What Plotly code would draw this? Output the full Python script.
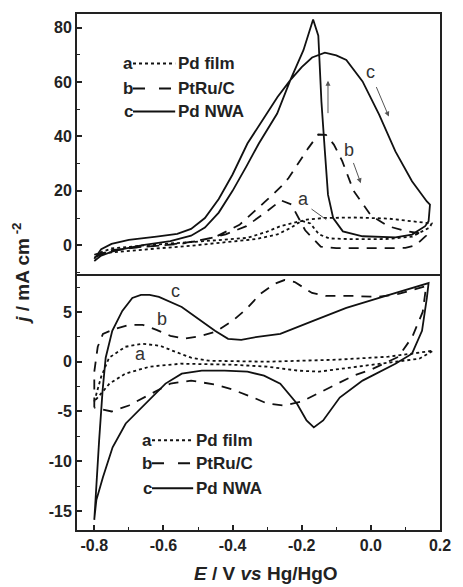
import plotly.graph_objects as go

# ---------------- data ----------------
# Upper panel: CVs in ethanol solution
up_a_E = [-0.80, -0.75, -0.65, -0.55, -0.45, -0.357, -0.30, -0.262, -0.22, -0.186, -0.138, -0.05, 0.05, 0.12, 0.176,
          0.17, 0.12, 0.05, -0.05, -0.12, -0.15, -0.175, -0.20, -0.23, -0.27, -0.33, -0.42, -0.52, -0.62, -0.72, -0.78, -0.80]
up_a_j = [-3.5, -1.2, 0.0, 0.8, 1.8, 2.7, 5.0, 7.0, 8.3, 9.4, 10.0, 10.2, 9.8, 8.8, 8.0,
          6.5, 3.2, 2.3, 2.2, 2.5, 4.0, 8.0, 9.0, 6.5, 4.0, 2.3, 1.0, -0.2, -1.2, -2.2, -3.0, -3.5]

up_b_E = [-0.80, -0.75, -0.65, -0.55, -0.45, -0.38, -0.306, -0.26, -0.238, -0.20, -0.181, -0.152, -0.13, -0.107, -0.083,
          -0.05, 0.0, 0.05, 0.10, 0.16,
          0.16, 0.13, 0.10, 0.0, -0.10, -0.145, -0.17, -0.19, -0.23, -0.26, -0.30, -0.36, -0.42, -0.50, -0.60, -0.70, -0.78, -0.80]
up_b_j = [-4.5, -1.8, -0.5, 0.5, 3.0, 7.5, 16.0, 21.5, 24.7, 32.0, 35.7, 40.7, 40.6, 37.0, 31.0,
          20.0, 11.0, 7.0, 5.2, 4.0,
          3.5, 0.0, -1.0, -1.1, -1.1, -0.5, 3.0, 5.5, 15.0, 16.5, 12.5, 7.0, 4.0, 1.5, 0.0, -1.0, -3.0, -4.5]

up_c_E = [-0.80, -0.78, -0.75, -0.70, -0.62, -0.56, -0.52, -0.48, -0.44, -0.40, -0.357, -0.30, -0.27, -0.233, -0.20,
          -0.17, -0.133, -0.10, -0.071, -0.024, 0.024, 0.071, 0.119, 0.162, 0.171,
          0.167, 0.157, 0.119, 0.071, -0.024, -0.081, -0.109, -0.124, -0.133, -0.143, -0.152, -0.167,
          -0.195, -0.233, -0.271, -0.324, -0.36, -0.40, -0.44, -0.48, -0.52, -0.58, -0.66, -0.74, -0.78, -0.80]
up_c_j = [-5.0, -1.5, 0.5, 2.0, 3.2, 4.2, 6.0, 10.0, 17.0, 26.0, 37.4, 48.4, 54.5, 60.7, 65.5,
          69.0, 70.8, 69.8, 68.1, 60.2, 48.0, 34.5, 23.5, 16.1, 14.9,
          8.8, 7.0, 3.9, 2.9, 3.3, 5.1, 10.0, 18.6, 34.5, 52.8, 77.0, 83.0,
          71.7, 60.7, 48.4, 37.4, 29.0, 20.0, 12.0, 6.5, 3.5, 1.5, 0.0, -2.0, -3.8, -5.8]

# Lower panel: CVs in blank electrolyte
lo_a_E = [-0.80, -0.78, -0.757, -0.71, -0.66, -0.61, -0.566, -0.52, -0.47, -0.30, -0.10, 0.05, 0.18,
          0.14, 0.05, -0.07, -0.15, -0.21, -0.30, -0.40, -0.55, -0.64, -0.71, -0.756, -0.78, -0.80]
lo_a_j = [-4.0, -1.5, 0.4, 1.5, 1.8, 1.6, 1.0, 0.4, 0.1, 0.0, 0.2, 0.5, 1.1,
          0.3, -0.1, -0.6, -1.0, -0.9, -0.5, -0.3, -0.2, -0.5, -1.2, -2.2, -3.2, -4.0]

lo_b_E = [-0.80, -0.80, -0.79, -0.775, -0.74, -0.70, -0.66, -0.62, -0.58, -0.54, -0.49, -0.45, -0.40, -0.36, -0.32,
          -0.28, -0.25, -0.22, -0.17, -0.13, -0.05, 0.02, 0.08, 0.13, 0.16,
          0.15, 0.12, 0.08, 0.0, -0.05, -0.12, -0.20, -0.25, -0.30, -0.34, -0.40, -0.45, -0.52, -0.58, -0.64, -0.70, -0.75, -0.78, -0.80]
lo_b_j = [-4.6, -1.0, 1.5, 2.8, 3.3, 3.7, 3.7, 3.2, 2.6, 2.3, 2.6, 3.0, 4.1, 5.3, 6.8,
          7.8, 8.2, 8.0, 6.9, 6.6, 6.6, 6.5, 6.8, 7.3, 7.6,
          5.0, 2.5, 0.5, -0.8, -1.4, -2.6, -4.0, -4.4, -4.2, -3.6, -2.8, -2.3, -1.9, -2.2, -3.3, -4.4, -5.0, -4.8, -4.6]

lo_c_E = [-0.80, -0.795, -0.786, -0.776, -0.767, -0.748, -0.719, -0.69, -0.665, -0.64, -0.613, -0.547, -0.489, -0.451,
          -0.413, -0.375, -0.328, -0.262, -0.167, -0.071, 0.024, 0.119, 0.167,
          0.162, 0.148, 0.119, 0.071, -0.024, -0.09, -0.138, -0.165, -0.186, -0.214, -0.262, -0.309, -0.357,
          -0.423, -0.489, -0.547, -0.594, -0.642, -0.709, -0.747, -0.775, -0.794, -0.80]
lo_c_j = [-15.9, -12.9, -7.9, -2.9, 0.4, 3.1, 5.1, 6.4, 6.7, 6.7, 6.5, 5.5, 4.1, 3.1,
          2.3, 2.2, 2.5, 2.8, 4.1, 5.4, 6.4, 7.4, 7.9,
          6.4, 3.1, 0.8, -0.2, -1.9, -3.6, -5.9, -6.6, -5.9, -4.2, -2.2, -1.4, -1.0,
          -0.9, -0.9, -1.2, -2.2, -3.9, -6.2, -8.6, -11.6, -13.9, -15.8]

x_tickvals = [-0.8, -0.6, -0.4, -0.2, 0.0, 0.2]
x_ticktext = ["-0.8", "-0.6", "-0.4", "-0.2", "0.0", "0.2"]
up_tickvals = [0, 20, 40, 60, 80]
up_ticktext = ["0", "20", "40", "60", "80"]
lo_tickvals = [-15, -10, -5, 0, 5]
lo_ticktext = ["-15", "-10", "-5", "0", "5"]

legend_labels = ["a", "b", "c"]
legend_names = ["Pd film", "PtRu/C", "Pd NWA"]

# ---------------- styles ----------------
FONT = "Liberation Sans, Arial, sans-serif"
DASH = {"a": "3px,3px", "b": "10px,8px", "c": "solid"}
LW = 1.8
INK = "#111111"

fig = go.Figure()

for E, j, key in [(up_a_E, up_a_j, "a"), (up_b_E, up_b_j, "b"), (up_c_E, up_c_j, "c")]:
    fig.add_trace(go.Scatter(x=E, y=j, mode="lines", xaxis="x2", yaxis="y2",
                             line=dict(color=INK, width=LW, dash=DASH[key]), showlegend=False))
for E, j, key in [(lo_a_E, lo_a_j, "a"), (lo_b_E, lo_b_j, "b"), (lo_c_E, lo_c_j, "c")]:
    fig.add_trace(go.Scatter(x=E, y=j, mode="lines", xaxis="x", yaxis="y",
                             line=dict(color=INK, width=LW, dash=DASH[key]), showlegend=False))

axis_common = dict(showline=True, linecolor="#222", linewidth=2, mirror=True, ticks="inside",
                   ticklen=5, tickwidth=1.5, tickcolor="#222", showgrid=False, zeroline=False,
                   tickfont=dict(family=FONT, size=16, color="#222", weight="bold"))
x_common = {k: v for k, v in axis_common.items() if k != "mirror"}

XR = [-0.85, 0.2]
fig.update_layout(
    width=463, height=587, margin=dict(l=77, r=13, t=12, b=57),
    paper_bgcolor="white", plot_bgcolor="white", showlegend=False,
    xaxis=dict(range=XR, domain=[0, 1], anchor="y", tickmode="array", tickvals=x_tickvals,
               ticktext=x_ticktext, mirror=False,
               minor=dict(ticks="inside", tickmode="linear", tick0=-0.9, dtick=0.1, ticklen=3,
                          tickwidth=1.2, tickcolor="#222"),
               **x_common),
    yaxis=dict(range=[-16.9, 8.8], domain=[0, 0.496], anchor="x", tickmode="array",
               tickvals=lo_tickvals, ticktext=lo_ticktext,
               minor=dict(ticks="inside", tickmode="linear", tick0=0, dtick=2.5, ticklen=3,
                          tickwidth=1.2, tickcolor="#222"),
               **axis_common),
    xaxis2=dict(range=XR, domain=[0, 1], anchor="y2", matches="x", showticklabels=False,
                mirror=True, showline=True, linecolor="#222", linewidth=2, ticks="",
                showgrid=False, zeroline=False),
    yaxis2=dict(range=[-10.6, 85], domain=[0.496, 1], anchor="x2", tickmode="array",
                tickvals=up_tickvals, ticktext=up_ticktext,
                minor=dict(ticks="inside", tickmode="linear", tick0=0, dtick=10, ticklen=3,
                           tickwidth=1.2, tickcolor="#222"),
                **axis_common),
)

annotations = []
shapes = []

# axis titles
annotations.append(dict(xref="paper", yref="paper", x=0.52, y=-0.085, xanchor="center", yanchor="middle",
                        text="<i>E</i> / V <i>vs</i> Hg/HgO", showarrow=False, borderpad=0,
                        font=dict(family=FONT, size=19, color="#222", weight="bold")))
annotations.append(dict(xref="paper", yref="paper", x=-0.155, y=0.496, xanchor="center", yanchor="middle",
                        textangle=-90, text="<i>j</i> / mA cm<sup> -2</sup>", showarrow=False,
                        font=dict(family=FONT, size=19, color="#222", weight="bold")))

# in-plot legends (drawn as text + sample lines)
def legend_block(xr, yr, x0, x1, ys):
    for lab, name, yv in zip(legend_labels, legend_names, ys):
        annotations.append(dict(xref=xr, yref=yr, x=x0 + 0.004, y=yv, xanchor="right", yanchor="middle",
                                text=lab, showarrow=False, borderpad=0,
                                font=dict(family=FONT, size=17, color="#222", weight="bold")))
        annotations.append(dict(xref=xr, yref=yr, x=x1 + 0.006, y=yv, xanchor="left", yanchor="middle",
                                text=name, showarrow=False, borderpad=0,
                                font=dict(family=FONT, size=17, color="#222", weight="bold")))
        shapes.append(dict(type="line", xref=xr, yref=yr, x0=x0, x1=x1, y0=yv, y1=yv,
                           line=dict(color=INK, width=2, dash=DASH[lab] if lab != "b" else "12px,14px")))

legend_block("x2", "y2", -0.688, -0.566, [66.8, 57.6, 49.2])
legend_block("x", "y", -0.633, -0.514, [-7.9, -10.2, -12.7])

# curve labels
lab_font = dict(family=FONT, size=18, color="#333")
for xr, yr, x, y, t in [("x2", "y2", 0.0, 63.5, "c"), ("x2", "y2", -0.062, 35.0, "b"),
                        ("x2", "y2", -0.195, 17.0, "a"),
                        ("x", "y", -0.566, 7.1, "c"), ("x", "y", -0.604, 4.3, "b"), ("x", "y", -0.666, 0.8, "a")]:
    annotations.append(dict(xref=xr, yref=yr, x=x, y=y, text=t, showarrow=False, font=lab_font,
                            xanchor="center", yanchor="middle"))

# direction arrows in the upper panel
for x0, y0, x1, y1, head in [(0.014, 58.7, 0.052, 47.3, 2), (-0.052, 30.8, -0.029, 22.8, 2),
                             (-0.124, 48.0, -0.124, 60.5, 2), (-0.176, 13.7, -0.129, 9.4, 0)]:
    annotations.append(dict(xref="x2", yref="y2", axref="x2", ayref="y2", x=x1, y=y1, ax=x0, ay=y0,
                            text="", showarrow=True, arrowhead=head, arrowsize=1, arrowwidth=1,
                            arrowcolor="#555"))

fig.update_layout(annotations=annotations, shapes=shapes)
fig.write_html("out.html")
